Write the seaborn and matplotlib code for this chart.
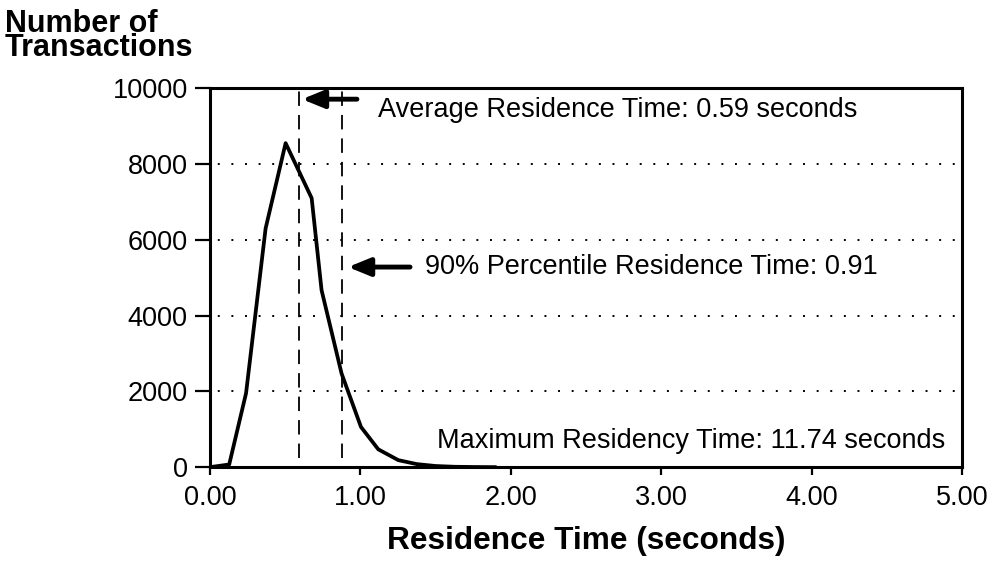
import matplotlib
matplotlib.use("Agg")
import matplotlib.pyplot as plt
import seaborn as sns
import pandas as pd

# residence time histogram
res_time = [0.0, 0.128, 0.24, 0.37, 0.503, 0.676, 0.742, 0.875, 1.004, 1.119, 1.252,
            1.375, 1.5, 1.625, 1.75, 1.9]
n_trans = [0, 70, 1950, 6300, 8550, 7100, 4670, 2470, 1060, 470, 185,
           80, 30, 10, 4, 0]

avg_time = 0.59
pct90_time = 0.88
x_ticks = [0, 1, 2, 3, 4, 5]
y_ticks = [0, 2000, 4000, 6000, 8000, 10000]
grid_levels = [2000, 4000, 6000, 8000]

sns.set_theme(style="white")
plt.rcParams['font.family'] = ['Liberation Sans', 'DejaVu Sans']
plt.rcParams['text.color'] = 'black'

df = pd.DataFrame({"t": res_time, "n": n_trans})

fig = plt.figure(figsize=(9.95, 5.69), dpi=100)
ax = fig.add_axes([0.211, 0.179, 0.756, 0.666])

for g in grid_levels:
    ax.axhline(g, color="black", lw=1.4, linestyle=(3, (1, 6)), zorder=1)

ax.plot([avg_time, avg_time], [250, 10000], color="black", lw=1.3,
        linestyle=(0, (8, 5)), zorder=2)
ax.plot([pct90_time, pct90_time], [250, 10000], color="black", lw=1.3,
        linestyle=(0, (8, 5)), zorder=2)

sns.lineplot(data=df, x="t", y="n", color="black", lw=2.7, ax=ax, zorder=3)

ax.set_xlim(0, 5)
ax.set_ylim(0, 10000)
ax.set_xticks(x_ticks)
ax.set_xticklabels([f"{v:.2f}" for v in x_ticks])
ax.set_yticks(y_ticks)
ax.set_yticklabels([str(v) for v in y_ticks])
ax.tick_params(axis="x", direction="out", length=6, width=1.6, pad=7,
               labelsize=19.5, colors="black", bottom=True)
ax.tick_params(axis="y", direction="out", length=11, width=1.6, pad=5,
               labelsize=19.5, colors="black", left=True)
for s in ax.spines.values():
    s.set_linewidth(2.2)
    s.set_color("black")
ax.set_xlabel("")
ax.set_ylabel("")

arrow = dict(arrowstyle="-|>,head_length=1.1,head_width=0.45", lw=3.5,
             color="black", shrinkA=0, shrinkB=0)
ax.annotate("", xy=(0.612, 9710), xytext=(0.977, 9710), arrowprops=arrow)
ax.annotate("", xy=(0.918, 5280), xytext=(1.33, 5280), arrowprops=arrow)

ax.text(1.117, 9420, "Average Residence Time: 0.59 seconds", fontsize=19.5,
        va="center", ha="left", color="black")
ax.text(1.43, 5280, "90% Percentile Residence Time: 0.91", fontsize=19.5,
        va="center", ha="left", color="black")
ax.text(4.887, 700, "Maximum Residency Time: 11.74 seconds", fontsize=19.5,
        va="center", ha="right", color="black")

fig.text(0.005, 0.984, "Number of\nTransactions", fontsize=22, fontweight="bold",
         va="top", ha="left", linespacing=0.72, color="black")
fig.text(0.589, 0.049, "Residence Time (seconds)", fontsize=22.8, fontweight="bold",
         va="center", ha="center", color="black")

fig.savefig("out.png", dpi=100)
